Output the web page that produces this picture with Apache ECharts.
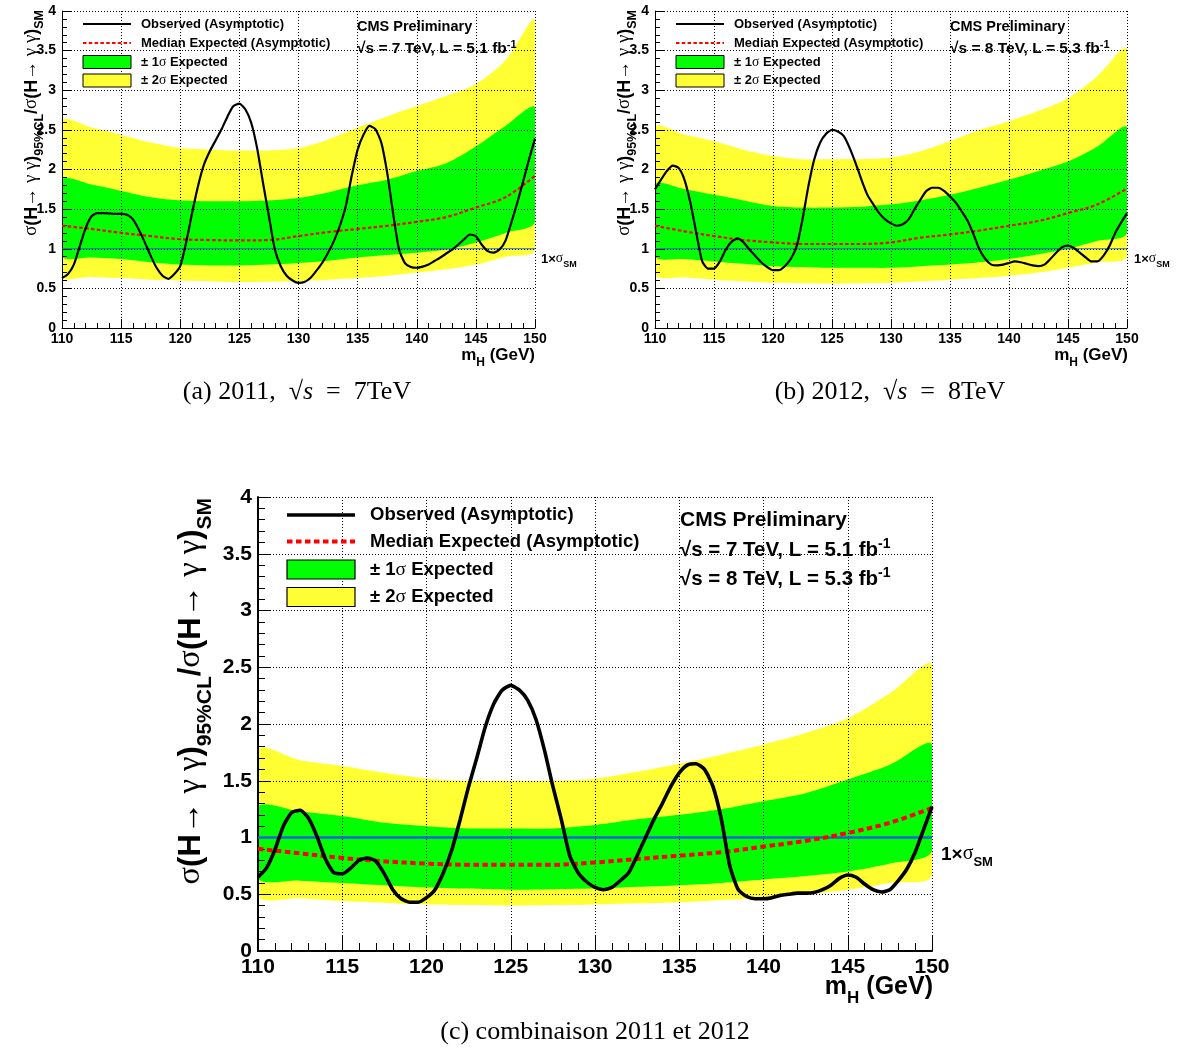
<!DOCTYPE html>
<html><head><meta charset="utf-8">
<script src="https://cdn.jsdelivr.net/npm/echarts@6/dist/echarts.min.js"></script>
<style>html,body{margin:0;padding:0;background:#fff}#c{width:1177px;height:1050px}</style>
</head><body><div id="c"></div>
<script>
// ---------- data ----------
const massObs = [110,110.5,111,111.5,112,112.5,113,113.5,114,114.5,115,115.5,116,116.5,117,117.5,118,118.5,119,119.5,
  120,120.5,121,121.5,122,122.5,123,123.5,124,124.5,125,125.5,126,126.5,127,127.5,128,128.5,129,129.5,
  130,130.5,131,131.5,132,132.5,133,133.5,134,134.5,135,135.5,136,136.5,137,137.5,138,138.5,139,139.5,
  140,140.5,141,141.5,142,142.5,143,143.5,144,144.5,145,145.5,146,146.5,147,147.5,148,148.5,149,149.5,150];
const massBand = [110,112.5,115,117.5,120,122.5,125,127.5,130,132.5,135,137.5,140,142.5,145,147.5,150];
const smMass = [110,150];
const smValue = [1,1];

// (a) 2011, 7 TeV
const obs2011 = [0.63,0.68,0.80,1.03,1.26,1.41,1.45,1.45,1.445,1.44,1.44,1.43,1.37,1.24,1.08,0.91,0.76,0.66,0.62,0.68,
  0.78,1.08,1.45,1.79,2.06,2.23,2.37,2.51,2.67,2.80,2.83,2.76,2.59,2.27,1.83,1.41,0.99,0.78,0.66,0.60,
  0.57,0.58,0.63,0.72,0.82,0.95,1.10,1.29,1.54,1.92,2.25,2.44,2.55,2.51,2.34,1.96,1.45,0.99,0.82,0.77,
  0.76,0.775,0.80,0.845,0.89,0.94,0.99,1.05,1.12,1.18,1.16,1.05,0.97,0.95,0.99,1.10,1.33,1.58,1.85,2.13,2.39];
const exp2011 = [1.29,1.25,1.20,1.16,1.12,1.11,1.105,1.11,1.16,1.21,1.25,1.29,1.34,1.40,1.52,1.65,1.92];
const up1s2011 = [1.87,1.81,1.73,1.65,1.61,1.60,1.60,1.61,1.64,1.71,1.80,1.87,1.98,2.08,2.29,2.55,2.78];
const lo1s2011 = [0.91,0.89,0.87,0.83,0.80,0.79,0.79,0.80,0.82,0.85,0.89,0.92,0.95,0.99,1.08,1.20,1.34];
const up2s2011 = [2.61,2.53,2.44,2.34,2.27,2.25,2.24,2.24,2.27,2.38,2.53,2.67,2.80,2.93,3.08,3.38,3.88];
const lo2s2011 = [0.66,0.645,0.63,0.61,0.60,0.59,0.58,0.585,0.59,0.61,0.63,0.66,0.70,0.74,0.80,0.90,0.99];

// (b) 2012, 8 TeV
const obs2012 = [1.75,1.87,1.98,2.05,2.02,1.87,1.58,1.20,0.84,0.75,0.75,0.84,0.99,1.09,1.13,1.08,0.99,0.91,0.83,0.77,
  0.73,0.73,0.78,0.87,1.03,1.37,1.79,2.13,2.34,2.45,2.50,2.48,2.42,2.27,2.08,1.87,1.68,1.56,1.45,1.37,
  1.32,1.29,1.31,1.37,1.50,1.62,1.73,1.77,1.77,1.73,1.66,1.58,1.47,1.35,1.18,0.99,0.87,0.80,0.79,0.80,
  0.82,0.84,0.83,0.81,0.79,0.78,0.80,0.87,0.95,1.02,1.04,1.01,0.95,0.89,0.84,0.84,0.91,1.03,1.20,1.33,1.45];
const exp2012 = [1.29,1.22,1.16,1.11,1.08,1.06,1.06,1.06,1.08,1.14,1.18,1.23,1.29,1.35,1.45,1.56,1.76];
const up1s2012 = [1.81,1.75,1.68,1.61,1.54,1.52,1.52,1.53,1.56,1.61,1.68,1.77,1.87,1.98,2.10,2.29,2.53];
const lo1s2012 = [0.91,0.87,0.84,0.81,0.78,0.77,0.76,0.76,0.76,0.78,0.80,0.83,0.87,0.93,1.00,1.10,1.20];
const up2s2012 = [2.53,2.44,2.36,2.25,2.17,2.13,2.13,2.13,2.15,2.23,2.36,2.50,2.61,2.74,2.90,3.18,3.52];
const lo2s2012 = [0.68,0.64,0.61,0.59,0.57,0.565,0.56,0.565,0.57,0.59,0.61,0.63,0.66,0.70,0.76,0.83,0.91];

// (c) combination
const obsComb = [0.65,0.73,0.89,1.10,1.22,1.24,1.17,1.01,0.81,0.69,0.68,0.73,0.80,0.82,0.79,0.68,0.54,0.46,0.43,0.43,
  0.47,0.54,0.69,0.89,1.16,1.45,1.71,1.98,2.18,2.30,2.34,2.30,2.21,2.04,1.77,1.45,1.16,0.84,0.69,0.61,
  0.56,0.54,0.56,0.62,0.69,0.84,1.00,1.16,1.30,1.45,1.57,1.64,1.65,1.60,1.45,1.16,0.75,0.54,0.48,0.46,
  0.46,0.47,0.49,0.50,0.51,0.51,0.515,0.54,0.58,0.64,0.67,0.65,0.59,0.54,0.52,0.54,0.62,0.72,0.87,1.07,1.27];
const expComb = [0.90,0.86,0.82,0.79,0.77,0.76,0.76,0.76,0.78,0.81,0.84,0.87,0.92,0.97,1.04,1.13,1.26];
const up1sComb = [1.27,1.23,1.19,1.13,1.10,1.08,1.08,1.08,1.11,1.16,1.20,1.25,1.32,1.39,1.51,1.64,1.82];
const lo1sComb = [0.64,0.62,0.60,0.58,0.56,0.55,0.54,0.545,0.55,0.565,0.58,0.60,0.63,0.66,0.70,0.77,0.88];
const up2sComb = [1.77,1.68,1.63,1.57,1.52,1.50,1.50,1.50,1.52,1.58,1.65,1.73,1.82,1.92,2.05,2.27,2.52];
const lo2sComb = [0.49,0.465,0.44,0.425,0.41,0.405,0.40,0.405,0.41,0.42,0.43,0.45,0.47,0.50,0.54,0.60,0.67];

// ---------- styles ----------
const FONT = '"Liberation Sans", Arial, Helvetica, sans-serif';
const SERIF = '"Liberation Serif", "Times New Roman", serif';
const YELLOW = '#ffff33', GREEN = '#00ff00', RED = '#ff0000', BLUE = '#1f63d8';

const small = {lab:14, xm:4, ym:6, xt:9, xmt:5, yt:9, ymt:5, axW:1, obsW:2.2, expW:2.2, dash:[3.5,2.3], smW:1.2, legFs:13, cmsFs:14.5, lumFs:15.5, titFs:18, titSub:12.5, xtFs:17, xtSub:12, smFs:13, smSub:9};
const big = {lab:21, xm:6, ym:6, xt:16, xmt:8, yt:13, ymt:7, axW:2, obsW:3.6, expW:4, dash:[5.5,3.5], smW:2.6, legFs:18.5, cmsFs:21, lumFs:20.5, titFs:31, titSub:21, xtFs:25, xtSub:17, smFs:19, smSub:13};

const panels = [
  {grid:{left:62, top:11, width:473, height:317}, s:small, obs:obs2011, exp:exp2011, u1:up1s2011, l1:lo1s2011, u2:up2s2011, l2:lo2s2011},
  {grid:{left:655, top:11, width:472, height:317}, s:small, obs:obs2012, exp:exp2012, u1:up1s2012, l1:lo1s2012, u2:up2s2012, l2:lo2s2012},
  {grid:{left:258, top:497, width:674, height:454}, s:big, obs:obsComb, exp:expComb, u1:up1sComb, l1:lo1sComb, u2:up2sComb, l2:lo2sComb}
];

function pairs(xs, ys){ return xs.map((x,i)=>[x, ys[i]]); }

function bandSeries(i, name, upper, lower, color){
  return {type:'custom', name, xAxisIndex:i, yAxisIndex:i, silent:true, z:1, clip:true,
    data:[[130, 1]],
    renderItem:function(params, api){
      const cs = params.coordSys;
      const pts = [];
      massBand.forEach((m,k)=>pts.push(api.coord([m, upper[k]])));
      for (let k = massBand.length-1; k >= 0; k--) pts.push(api.coord([massBand[k], lower[k]]));
      return {type:'polygon',
        shape:{points:pts, smooth:0.3, smoothConstraint:[[cs.x, cs.y],[cs.x+cs.width, cs.y+cs.height]]},
        style:{fill:color, stroke:null}};
    }};
}

const grids = [], xAxes = [], yAxes = [], series = [];
panels.forEach((p, i) => {
  const s = p.s;
  grids.push(Object.assign({containLabel:false}, p.grid));
  const common = {
    type:'value', gridIndex:i, z:1.5,
    axisLine:{show:true, onZero:false, lineStyle:{color:'#000', width:s.axW}},
    splitLine:{show:true, lineStyle:{color:'#000', width:1, type:[1,2]}},
    minorSplitLine:{show:false}
  };
  xAxes.push(Object.assign({}, common, {
    min:110, max:150, interval:5,
    axisTick:{show:true, inside:true, length:s.xt, lineStyle:{color:'#000', width:1}},
    minorTick:{show:true, splitNumber:5, length:s.xmt, lineStyle:{color:'#000', width:1}},
    axisLabel:{color:'#000', fontFamily:FONT, fontWeight:'bold', fontSize:s.lab, margin:s.xm}
  }));
  yAxes.push(Object.assign({}, common, {
    min:0, max:4, interval:0.5,
    axisTick:{show:true, inside:true, length:s.yt, lineStyle:{color:'#000', width:1}},
    minorTick:{show:true, splitNumber:5, length:s.ymt, lineStyle:{color:'#000', width:1}},
    axisLabel:{color:'#000', fontFamily:FONT, fontWeight:'bold', fontSize:s.lab, margin:s.ym}
  }));
  series.push(bandSeries(i, '± 2σ Expected', p.u2, p.l2, YELLOW));
  series.push(bandSeries(i, '± 1σ Expected', p.u1, p.l1, GREEN));
  series.push({type:'line', name:'SM', xAxisIndex:i, yAxisIndex:i, symbol:'none', silent:true, z:2.5,
    data:pairs(smMass, smValue), lineStyle:{color:BLUE, width:s.smW}});
  series.push({type:'line', name:'Median Expected (Asymptotic)', xAxisIndex:i, yAxisIndex:i, symbol:'none', silent:true, z:3,
    smooth:0.35, data:pairs(massBand, p.exp), lineStyle:{color:RED, width:s.expW, type:s.dash}});
  series.push({type:'line', name:'Observed (Asymptotic)', xAxisIndex:i, yAxisIndex:i, symbol:'none', silent:true, z:4,
    smooth:0.2, data:pairs(massObs, p.obs), lineStyle:{color:'#000', width:s.obsW}});
});

// ---------- annotations ----------
function rt(size, sub){ // rich styles with subscripts; g = greek (symbol-like serif)
  const pad = Math.round(size*0.28);
  return {
    m:{fontFamily:FONT, fontWeight:'bold', fontSize:size, lineHeight:size*1.15, verticalAlign:'bottom', padding:[0,0,pad,0], color:'#000'},
    g:{fontFamily:SERIF, fontWeight:'normal', fontSize:size*1.05, lineHeight:size*1.15, verticalAlign:'bottom', padding:[0,0,pad,0], color:'#000'},
    s:{fontFamily:FONT, fontWeight:'bold', fontSize:sub, lineHeight:sub*1.1, verticalAlign:'bottom', color:'#000'}
  };
}
function supRich(size, sub){
  const pad = Math.round(size*0.3);
  return {
    m:{fontFamily:FONT, fontWeight:'bold', fontSize:size, lineHeight:size*1.15, verticalAlign:'bottom', padding:[pad,0,0,0], color:'#000'},
    p:{fontFamily:FONT, fontWeight:'bold', fontSize:sub, lineHeight:sub*1.1, verticalAlign:'top', color:'#000'}
  };
}
const graphics = [];
function txt(x, y, text, rich, align, vAlign, rot){
  graphics.push({type:'text', x, y, rotation:rot||0, silent:true, z:10,
    style:{text, rich, align:align||'left', verticalAlign:vAlign||'middle'}});
}
function legend(x0, x1, tx, rows, rh, s, lw){
  const fs = s.legFs;
  graphics.push({type:'line', silent:true, z:10, shape:{x1:x0, y1:rows[0], x2:x1, y2:rows[0]}, style:{stroke:'#000', lineWidth:s.obsW}});
  graphics.push({type:'line', silent:true, z:10, shape:{x1:x0, y1:rows[1], x2:x1, y2:rows[1]}, style:{stroke:RED, lineWidth:s.expW, lineDash:s.dash}});
  graphics.push({type:'rect', silent:true, z:10, shape:{x:x0, y:rows[2]-rh/2, width:x1-x0, height:rh}, style:{fill:GREEN, stroke:'#000', lineWidth:lw}});
  graphics.push({type:'rect', silent:true, z:10, shape:{x:x0, y:rows[3]-rh/2, width:x1-x0, height:rh}, style:{fill:YELLOW, stroke:'#000', lineWidth:lw}});
  const r = {m:{fontFamily:FONT, fontWeight:'bold', fontSize:fs, color:'#000'}, g:{fontFamily:SERIF, fontSize:fs*1.05, color:'#000'}};
  txt(tx, rows[0], '{m|Observed (Asymptotic)}', r);
  txt(tx, rows[1], '{m|Median Expected (Asymptotic)}', r);
  txt(tx, rows[2], '{m|± 1}{g|σ}{m| Expected}', r);
  txt(tx, rows[3], '{m|± 2}{g|σ}{m| Expected}', r);
}
legend(83, 131, 141, [24, 43, 62, 80.5], 13, small, 1);
legend(676, 724, 734, [24, 43, 62, 80.5], 13, small, 1);
legend(287, 355, 370, [515, 541.5, 569.5, 597], 19, big, 1.2);

function cms(x, y, s, lines, gap){
  txt(x, y, '{m|CMS Preliminary}', {m:{fontFamily:FONT, fontWeight:'bold', fontSize:s.cmsFs, color:'#000'}});
  lines.forEach((l, k) => txt(x, y + gap*(k+1), '{m|√s = ' + l[0] + ' TeV, L = ' + l[1] + ' fb}{p|-1}', supRich(s.lumFs, Math.round(s.lumFs*0.68)), 'left', 'middle'));
}
cms(357, 27, small, [['7','5.1']], 21);
cms(950, 27, small, [['8','5.3']], 21);
cms(680, 520, big, [['7','5.1'],['8','5.3']], 29);

// axis titles
const yTitle = '{g|σ}{m|(H}{g|→ γ γ}{m|)}{s|95%CL}{m|/}{g|σ}{m|(H}{g|→ γ γ}{m|)}{s|SM}';
txt(46, 10, yTitle, rt(small.titFs, small.titSub), 'right', 'bottom', Math.PI/2);
txt(639, 10, yTitle, rt(small.titFs, small.titSub), 'right', 'bottom', Math.PI/2);
txt(216, 498, yTitle, rt(big.titFs, big.titSub), 'right', 'bottom', Math.PI/2);
const xTitle = '{m|m}{s|H}{m| (GeV)}';
txt(535, 349, xTitle, rt(small.xtFs, small.xtSub), 'right', 'top');
txt(1128, 349, xTitle, rt(small.xtFs, small.xtSub), 'right', 'top');
txt(933, 978, xTitle, rt(big.xtFs, big.xtSub), 'right', 'top');
const smTxt = '{m|1×}{g|σ}{s|SM}';
txt(541, 262, smTxt, rt(small.smFs, small.smSub), 'left', 'middle');
txt(1134, 262, smTxt, rt(small.smFs, small.smSub), 'left', 'middle');
txt(941, 858, smTxt, rt(big.smFs, big.smSub), 'left', 'middle');

// captions
const capRich = {n:{fontFamily:SERIF, fontSize:26, color:'#000'}, i:{fontFamily:SERIF, fontSize:26, fontStyle:'italic', color:'#000'}};
txt(297, 392, '{n|(a) 2011,  √}{i|s}{n|  =  7TeV}', capRich, 'center', 'middle');
txt(890, 392, '{n|(b) 2012,  √}{i|s}{n|  =  8TeV}', capRich, 'center', 'middle');
txt(595, 1032, '{n|(c) combinaison 2011 et 2012}', capRich, 'center', 'middle');

const chart = echarts.init(document.getElementById('c'), null, {renderer:'canvas'});
chart.setOption({
  animation:false,
  backgroundColor:'#fff',
  grid:grids, xAxis:xAxes, yAxis:yAxes, series,
  graphic:graphics
});
</script></body></html>
